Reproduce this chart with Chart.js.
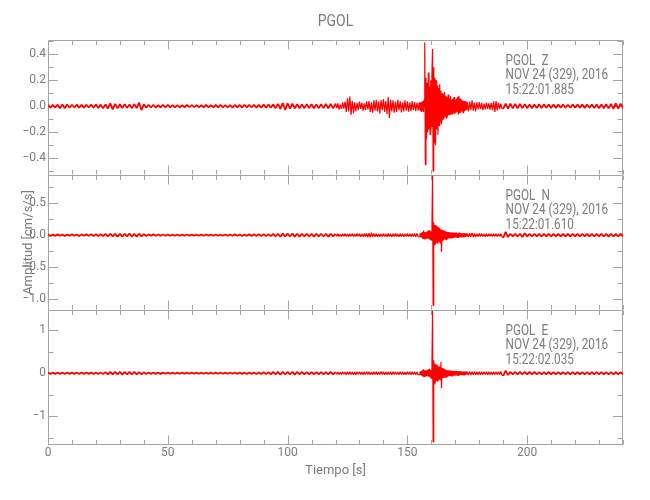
<!DOCTYPE html>
<html>
<head>
<meta charset="utf-8">
<script src="https://cdn.jsdelivr.net/npm/chart.js@4"></script>
<style>
  body { margin: 0; background: #fff; }
  #wrap { position: relative; width: 650px; height: 500px; }
  canvas { position: absolute; left: 0; }
</style>
</head>
<body>
<div id="wrap">
  <canvas id="panelZ" width="650" height="175" style="top:0px;width:650px;height:175px"></canvas>
  <canvas id="panelN" width="650" height="135" style="top:175px;width:650px;height:135px"></canvas>
  <canvas id="panelE" width="650" height="190" style="top:310px;width:650px;height:190px"></canvas>
</div>
<script>
// station / record info
const STATION = 'PGOL';
const COMPONENTS = ['Z', 'N', 'E'];
const DATE_LABEL = 'NOV 24 (329), 2016';
const START_TIMES = ['15:22:01.885', '15:22:01.610', '15:22:02.035'];

// axis ranges and ticks per panel
const Y_MIN = [-0.53, -1.17, -1.67];
const Y_MAX = [0.51, 0.94, 1.47];
const Y_MINOR = [0.1, 0.25, 0.5];
const Y_MAJOR = [0.2, 0.5, 1];
const Y_DECIMALS = [1, 1, 0];
const X_MIN = 0, X_MAX = 240, X_MINOR = 10, X_MAJOR = 50;

// trace read off in 5 pieces: quiet, pre-arrival, arrival, coda, tail
// start time (s) and sample spacing (s) of each piece
const SEG_T0 = [0, 120, 155, 175.5, 190];
const SEG_DT = [1, 0.5, 0.25, 0.5, 1];

// --- Z ---
const zQuiet = [
  0.01,-0.012,0.011,-0.01,0.012,-0.015,0.014,-0.016,0.013,-0.012,
  0.011,-0.01,0.012,-0.011,0.01,-0.012,0.011,-0.01,0.012,-0.011,
  0.013,-0.014,0.012,-0.015,0.014,-0.018,0.022,-0.025,0.018,-0.016,
  0.015,-0.014,0.016,-0.013,0.014,-0.015,0.016,-0.014,0.028,-0.03,
  0.015,-0.012,0.011,-0.01,0.011,-0.01,0.009,-0.01,0.011,-0.009,
  0.01,-0.009,0.008,-0.009,0.008,-0.008,0.007,-0.008,0.009,-0.007,
  0.008,-0.007,0.008,-0.008,0.007,-0.008,0.009,-0.008,0.007,-0.008,
  0.009,-0.008,0.01,-0.009,0.008,-0.009,0.008,-0.01,0.009,-0.008,
  0.009,-0.01,0.011,-0.009,0.01,-0.01,0.011,-0.012,0.01,-0.011,
  0.012,-0.011,0.013,-0.012,0.014,-0.015,0.018,-0.02,0.025,-0.028,
  0.022,-0.018,0.02,-0.016,0.015,-0.016,0.014,-0.015,0.016,-0.014,
  0.015,-0.016,0.014,-0.015,0.016,-0.015,0.017,-0.016,0.018,-0.017
];
const zPre = [
  0.02,-0.014,0.022,-0.026,0.012,-0.02,0.03,-0.018,0.035,-0.045,
  0.06,-0.04,0.075,-0.065,0.04,-0.055,0.03,-0.038,0.025,-0.03,
  0.035,-0.02,0.028,-0.035,0.022,-0.03,0.038,-0.025,0.04,-0.045,
  0.03,-0.05,0.045,-0.035,0.05,-0.04,0.035,-0.055,0.048,-0.03,
  0.055,-0.045,0.04,-0.06,0.07,-0.09,0.05,-0.04,0.045,-0.05,
  0.035,-0.045,0.05,-0.03,0.04,-0.048,0.03,-0.04,0.045,-0.035,
  0.038,-0.042,0.03,-0.036,0.04,-0.03,0.032,-0.038,0.028,-0.033
];
const zArrival = [
  0.03,-0.035,0.028,-0.04,  0.035,-0.03,0.04,-0.045,
  0.05,0.49,-0.45,0.22,     -0.25,0.18,-0.2,0.26,
  -0.18,0.15,-0.22,0.2,     -0.16,0.24,0.44,-0.5,
  0.3,-0.28,0.22,-0.3,      0.2,-0.18,0.16,-0.22,
  0.14,-0.15,0.17,-0.12,    0.12,-0.14,0.1,-0.11,
  0.09,-0.1,0.11,-0.08,     0.08,-0.09,0.07,-0.08,
  0.09,-0.07,0.06,-0.07,    0.08,-0.06,0.05,-0.06,
  0.06,-0.05,0.07,-0.06,    0.05,-0.05,0.06,-0.04,
  0.07,-0.06,0.08,-0.05,    0.06,-0.05,0.05,-0.04,
  0.04,-0.05,0.04,-0.035,   0.04,-0.03,0.035,-0.03,
  0.03
];
const zCoda = [
  -0.04,0.035,-0.03,0.045,-0.035,0.028,-0.04,0.03,-0.025,0.032,
  -0.022,0.026,-0.03,0.02,-0.025,0.028,-0.02,0.022,-0.026,0.025,
  -0.03,0.038,-0.045,0.04,-0.032,0.025,-0.022,0.02,-0.018
];
const zTail = [
  -0.02,0.02,-0.018,0.02,-0.017,0.018,
  -0.016,0.017,-0.015,0.016,-0.015,0.014,-0.015,0.013,-0.014,0.015,
  -0.013,0.014,-0.012,0.013,-0.014,0.012,-0.013,0.012,-0.011,0.012,
  -0.012,0.011,-0.012,0.013,-0.011,0.012,-0.011,0.012,-0.013,0.012,
  -0.012,0.013,-0.014,0.013,-0.015,0.014,-0.016,0.015,-0.017,0.018,
  -0.02,0.022,-0.018,0.02,-0.016
];

// --- N ---
const nQuiet = [
  0.01,-0.012,0.01,-0.011,0.012,-0.01,0.011,-0.012,0.01,-0.011,
  0.012,-0.01,0.011,-0.013,0.012,-0.011,0.012,-0.01,0.013,-0.012,
  0.014,-0.013,0.015,-0.016,0.018,-0.02,0.022,-0.018,0.02,-0.022,
  0.02,-0.024,0.022,-0.02,0.025,-0.022,0.02,-0.024,0.022,-0.018,
  0.015,-0.013,0.012,-0.011,0.012,-0.01,0.011,-0.01,0.009,-0.01,
  0.009,-0.01,0.008,-0.009,0.01,-0.009,0.008,-0.009,0.01,-0.008,
  0.009,-0.008,0.009,-0.01,0.008,-0.009,0.01,-0.008,0.009,-0.01,
  0.01,-0.009,0.011,-0.01,0.009,-0.01,0.011,-0.01,0.012,-0.011,
  0.011,-0.012,0.01,-0.011,0.012,-0.012,0.013,-0.012,0.014,-0.013,
  0.014,-0.015,0.016,-0.015,0.018,-0.02,0.022,-0.025,0.024,-0.022,
  0.024,-0.022,0.025,-0.023,0.022,-0.024,0.022,-0.02,0.022,-0.021,
  0.02,-0.022,0.021,-0.02,0.022,-0.021,0.02,-0.022,0.021,-0.02
];
const nPre = [
  0.02,-0.016,0.022,-0.02,0.015,-0.022,0.02,-0.018,0.024,-0.02,
  0.018,-0.024,0.022,-0.016,0.02,-0.022,0.018,-0.02,0.024,-0.018,
  0.022,-0.025,0.02,-0.024,0.026,-0.02,0.028,-0.03,0.032,-0.035,
  0.04,-0.032,0.028,-0.025,0.022,-0.026,0.02,-0.024,0.022,-0.02,
  0.024,-0.022,0.02,-0.025,0.026,-0.022,0.02,-0.024,0.022,-0.02,
  0.025,-0.022,0.02,-0.026,0.024,-0.02,0.022,-0.025,0.02,-0.023,
  0.025,-0.02,0.022,-0.026,0.024,-0.022,0.026,-0.024,0.025,-0.022
];
const nArrival = [
  -0.025,0.028,-0.03,0.035,  -0.04,0.05,-0.06,0.07,
  -0.06,0.05,-0.055,0.045,   -0.05,0.06,-0.05,0.07,
  -0.06,0.08,-0.07,0.06,     -0.08,0.1,0.93,-1.1,
  0.2,-0.15,0.16,-0.14,      0.15,-0.12,0.13,-0.14,
  0.12,-0.1,0.11,-0.12,      0.09,-0.26,0.08,-0.09,
  0.07,-0.08,0.07,-0.06,     0.06,-0.07,0.05,-0.06,
  0.05,-0.05,0.045,-0.05,    0.04,-0.045,0.04,-0.04,
  0.045,-0.04,0.035,-0.04,   0.04,-0.035,0.04,-0.035,
  0.03,-0.035,0.04,-0.03,    0.035,-0.03,0.03,-0.035,
  0.03,-0.028,0.03,-0.025,   0.028,-0.025,0.026,-0.024,
  0.025
];
const nCoda = [
  -0.028,0.03,-0.025,0.035,-0.03,0.026,-0.03,0.024,-0.022,0.026,
  -0.02,0.024,-0.022,0.02,-0.024,0.022,-0.02,0.022,-0.018,0.02,
  -0.022,0.02,-0.018,0.022,-0.02,0.018,-0.022,0.02,-0.018
];
const nTail = [
  -0.045,0.05,-0.03,0.022,-0.02,0.021,
  -0.02,0.022,-0.03,0.028,-0.02,0.02,-0.019,0.02,-0.018,0.019,
  -0.018,0.019,-0.017,0.018,-0.019,0.018,-0.017,0.018,-0.019,0.018,
  -0.017,0.018,-0.019,0.018,-0.017,0.018,-0.019,0.018,-0.02,0.019,
  -0.019,0.02,-0.019,0.021,-0.02,0.02,-0.021,0.02,-0.022,0.021,
  -0.021,0.022,-0.02,0.021,-0.02
];

// --- E ---
const eQuiet = [
  0.015,-0.018,0.016,-0.015,0.017,-0.016,0.018,-0.017,0.015,-0.016,
  0.017,-0.016,0.015,-0.017,0.016,-0.015,0.017,-0.016,0.018,-0.017,
  0.018,-0.02,0.019,-0.022,0.024,-0.025,0.028,-0.026,0.03,-0.028,
  0.03,-0.032,0.03,-0.028,0.032,-0.03,0.028,-0.03,0.026,-0.024,
  0.02,-0.018,0.016,-0.015,0.016,-0.015,0.014,-0.015,0.013,-0.014,
  0.013,-0.014,0.012,-0.013,0.014,-0.012,0.013,-0.012,0.014,-0.013,
  0.012,-0.013,0.014,-0.012,0.013,-0.013,0.012,-0.014,0.013,-0.012,
  0.014,-0.013,0.015,-0.014,0.013,-0.014,0.015,-0.014,0.016,-0.015,
  0.015,-0.016,0.015,-0.017,0.016,-0.016,0.017,-0.018,0.017,-0.019,
  0.02,-0.022,0.024,-0.025,0.028,-0.03,0.032,-0.035,0.033,-0.03,
  0.032,-0.03,0.034,-0.032,0.03,-0.028,0.03,-0.028,0.027,-0.026,
  0.025,-0.024,0.026,-0.025,0.024,-0.025,0.026,-0.027,0.028,-0.026
];
const ePre = [
  0.027,-0.022,0.03,-0.028,0.024,-0.032,0.034,-0.026,0.03,-0.035,
  0.032,-0.028,0.036,-0.03,0.026,-0.034,0.03,-0.036,0.033,-0.027,
  0.035,-0.03,0.028,-0.036,0.034,-0.032,0.037,-0.028,0.032,-0.035,
  0.03,-0.038,0.036,-0.03,0.034,-0.036,0.028,-0.033,0.038,-0.03,
  0.035,-0.034,0.03,-0.037,0.036,-0.028,0.033,-0.036,0.034,-0.03,
  0.036,-0.033,0.028,-0.035,0.037,-0.03,0.034,-0.036,0.03,-0.034,
  0.035,-0.03,0.033,-0.036,0.032,-0.028,0.036,-0.034,0.03,-0.035
];
const eArrival = [
  -0.035,0.04,-0.045,0.05,   -0.055,0.07,-0.08,0.09,
  -0.08,0.07,-0.065,0.06,    -0.07,0.08,-0.07,0.09,
  -0.08,0.1,-0.09,0.08,      -0.12,0.15,1.45,-1.6,
  0.3,-0.25,0.22,-0.2,       0.2,-0.18,0.18,-0.2,
  0.15,-0.14,0.16,-0.15,     0.26,-0.35,0.12,-0.11,
  0.1,-0.11,0.1,-0.09,       0.08,-0.09,0.07,-0.08,
  0.07,-0.07,0.06,-0.065,    0.06,-0.06,0.055,-0.06,
  0.055,-0.05,0.05,-0.055,   0.05,-0.05,0.055,-0.045,
  0.045,-0.05,0.05,-0.045,   0.045,-0.04,0.045,-0.04,
  0.04,-0.042,0.04,-0.038,   0.04,-0.036,0.038,-0.035,
  0.036
];
const eCoda = [
  -0.04,0.038,-0.042,0.036,-0.038,0.04,-0.035,0.036,-0.038,0.034,
  -0.036,0.033,-0.035,0.036,-0.032,0.034,-0.036,0.033,-0.035,0.032,
  -0.034,0.036,-0.033,0.035,-0.032,0.034,-0.036,0.04,-0.045
];
const eTail = [
  -0.06,0.06,-0.04,0.032,-0.03,0.031,
  -0.03,0.032,-0.03,0.029,-0.03,0.029,-0.028,0.03,-0.028,0.027,
  -0.028,0.027,-0.026,0.028,-0.027,0.026,-0.027,0.026,-0.025,0.027,
  -0.026,0.025,-0.026,0.027,-0.025,0.026,-0.025,0.027,-0.026,0.025,
  -0.026,0.027,-0.025,0.026,-0.027,0.026,-0.025,0.027,-0.026,0.025,
  -0.026,0.025,-0.027,0.026,-0.025
];

const TRACE_COLOR = '#ff0000';
const TEXT_COLOR = '#7c7c7c';
const AXIS_COLOR = '#a4a4a4';
const FONT = 'Roboto, "Liberation Sans", sans-serif';

Chart.defaults.font.family = FONT;
Chart.defaults.color = TEXT_COLOR;

function trace(...pieces) {
  const pts = [];
  pieces.forEach((vals, s) => {
    vals.forEach((v, i) => pts.push({ x: SEG_T0[s] + i * SEG_DT[s], y: v }));
  });
  return pts;
}
const traces = [
  trace(zQuiet, zPre, zArrival, zCoda, zTail),
  trace(nQuiet, nPre, nArrival, nCoda, nTail),
  trace(eQuiet, ePre, eArrival, eCoda, eTail)
];

const isMultiple = (v, step) => Math.abs(v / step - Math.round(v / step)) < 1e-6;
const fmt = (v, dec) => (Math.abs(v) < 1e-9 ? 0 : v).toFixed(dec).replace('-', '\u2212');

// narrow text, the original uses a condensed stroke font
function narrowText(ctx, text, x, y, size, squeeze, align) {
  ctx.save();
  ctx.font = size + 'px ' + FONT;
  ctx.textAlign = align;
  ctx.textBaseline = 'middle';
  ctx.translate(x, y);
  ctx.scale(squeeze, 1);
  ctx.fillText(text, 0, 0);
  ctx.restore();
}

// no label padding, so the three panels butt against each other
function noPadding(s) {
  s.paddingTop = 0; s.paddingBottom = 0; s.paddingLeft = 0; s.paddingRight = 0;
}

// box round each panel, ticks pointing inward on all four sides, and the record label
const panelFrame = {
  id: 'panelFrame',
  beforeDatasetsDraw(chart, args, opts) {
    const { ctx, chartArea: a } = chart;
    const xs = chart.scales.x, ys = chart.scales.y;
    const L = Math.round(a.left) + 0.5, R = Math.round(a.right) - 0.5;
    const T = Math.round(a.top) + 0.5, B = Math.round(a.bottom) + 0.5;
    ctx.save();
    ctx.strokeStyle = AXIS_COLOR;
    ctx.lineWidth = 1;
    ctx.beginPath();
    ctx.moveTo(L, B); ctx.lineTo(L, T); ctx.lineTo(R, T); ctx.lineTo(R, B);
    if (opts.bottomLine) { ctx.moveTo(L, B - 1); ctx.lineTo(R, B - 1); }
    xs.ticks.forEach(t => {
      const px = Math.round(xs.getPixelForValue(t.value)) + 0.5;
      const len = isMultiple(t.value, X_MAJOR) ? 9 : 4.5;
      ctx.moveTo(px, T); ctx.lineTo(px, T + len);
      ctx.moveTo(px, B - 1); ctx.lineTo(px, B - 1 - len);
    });
    ys.ticks.forEach(t => {
      const py = Math.round(ys.getPixelForValue(t.value)) + 0.5;
      const len = isMultiple(t.value, opts.major) ? 9.5 : 5;
      ctx.moveTo(L, py); ctx.lineTo(L + len, py);
      ctx.moveTo(R, py); ctx.lineTo(R - len, py);
    });
    ctx.stroke();
    ctx.restore();
  },
  afterDraw(chart, args, opts) {
    const { ctx, chartArea: a } = chart;
    const xs = chart.scales.x;
    const tx = xs.getPixelForValue(191);
    ctx.save();
    ctx.fillStyle = TEXT_COLOR;
    if (opts.title) narrowText(ctx, opts.title, (a.left + a.right) / 2, 21.5, 17, 0.82, 'center');
    narrowText(ctx, STATION, tx, a.top + 21, 14, 0.84, 'left');
    narrowText(ctx, opts.comp, xs.getPixelForValue(206), a.top + 21, 14, 0.84, 'left');
    narrowText(ctx, DATE_LABEL, tx, a.top + 35.5, 14, 0.84, 'left');
    narrowText(ctx, opts.time, tx, a.top + 50, 14, 0.84, 'left');
    ctx.restore();
  }
};

// the coarsely sampled pieces are stroked a little heavier so they read as a band
const segWidth = c => (c.p1.parsed.x - c.p0.parsed.x > 0.75 ? 1.8 : 1.2);

function makePanel(i) {
  const first = i === 0, middle = i === 1, last = i === 2;
  return new Chart(document.getElementById('panel' + COMPONENTS[i]), {
    type: 'line',
    data: {
      datasets: [{
        data: traces[i],
        borderColor: TRACE_COLOR,
        borderWidth: 1.2,
        borderJoinStyle: 'bevel',
        segment: { borderWidth: segWidth },
        pointRadius: 0,
        tension: 0,
        fill: false
      }]
    },
    options: {
      responsive: false,
      maintainAspectRatio: false,
      animation: false,
      events: [],
      layout: { autoPadding: false, padding: { left: 0, right: 27, top: first ? 40 : 0, bottom: 0 } },
      plugins: {
        legend: { display: false },
        tooltip: { enabled: false },
        title: { display: false },
        panelFrame: {
          major: Y_MAJOR[i], comp: COMPONENTS[i], time: START_TIMES[i],
          bottomLine: last, title: first ? STATION : null
        }
      },
      scales: {
        x: {
          type: 'linear',
          min: X_MIN,
          max: X_MAX,
          display: last,
          grid: { display: false, drawTicks: false },
          border: { display: false },
          ticks: {
            stepSize: X_MINOR,
            includeBounds: false,
            autoSkip: false,
            maxRotation: 0,
            padding: 1,
            font: { size: 12 },
            color: TEXT_COLOR,
            callback: v => isMultiple(v, X_MAJOR) ? String(v) : ''
          },
          title: {
            display: true,
            text: 'Tiempo [s]',
            color: TEXT_COLOR,
            font: { size: 13 },
            padding: { top: 0, bottom: 21 }
          },
          afterFit: s => { s.height = last ? 55 : 0; noPadding(s); }
        },
        y: {
          min: Y_MIN[i],
          max: Y_MAX[i],
          grid: { display: false, drawTicks: false },
          border: { display: false },
          ticks: {
            stepSize: Y_MINOR[i],
            includeBounds: false,
            autoSkip: false,
            padding: 2,
            font: { size: 12 },
            color: TEXT_COLOR,
            callback: v => isMultiple(v, Y_MAJOR[i]) ? fmt(v, Y_DECIMALS[i]) : ''
          },
          title: {
            display: middle,
            text: 'Amplitud [cm/s/s]',
            color: TEXT_COLOR,
            font: { size: 13 },
            padding: { top: 21, bottom: 0 }
          },
          afterFit: s => { s.width = 48; noPadding(s); }
        }
      }
    },
    plugins: [panelFrame]
  });
}

[0, 1, 2].forEach(makePanel);
</script>
</body>
</html>
